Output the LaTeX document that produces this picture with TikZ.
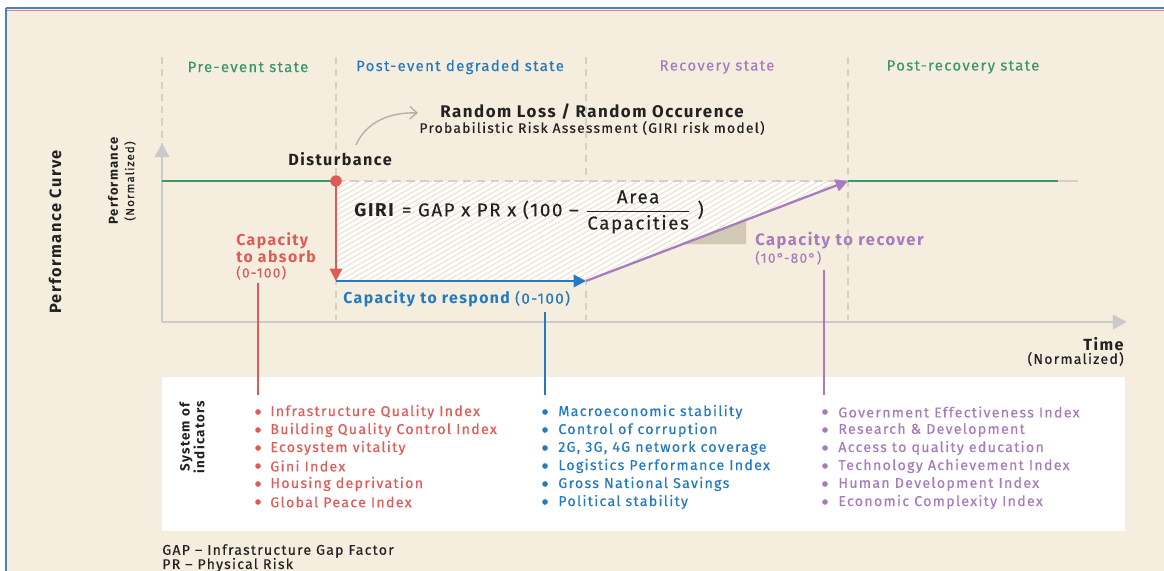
\documentclass[tikz,border=0pt]{standalone}
\usepackage{fontspec}
\setmainfont{Fira Sans}[LetterSpace=9,FakeBold=0.3,BoldFeatures={FakeBold=0}]
\usetikzlibrary{arrows.meta}
\definecolor{bgbeige}{RGB}{245,237,221}
\definecolor{absred}{RGB}{222,92,88}
\definecolor{respblue}{RGB}{36,122,192}
\definecolor{recpurple}{RGB}{166,124,190}
\definecolor{stategreen}{RGB}{58,150,110}
\definecolor{axisgray}{RGB}{202,202,202}
\definecolor{dividergray}{RGB}{214,208,196}
\definecolor{hatchbeige}{RGB}{236,229,214}
\definecolor{slopegray}{RGB}{210,201,180}
\definecolor{inkblack}{RGB}{34,34,34}
\definecolor{frameblue}{RGB}{70,130,200}

\begin{document}
\begin{tikzpicture}[x=0.02cm,y=-0.02cm,
  heading/.style={font=\fontsize{8.5}{10}\selectfont},
  boldlabel/.style={font=\fontsize{9.2}{10}\selectfont\bfseries,text=inkblack},
  caplabel/.style={font=\fontsize{9}{8.6}\selectfont\bfseries,align=left,inner sep=0pt},
  indicator/.style={font=\fontsize{8.1}{9}\selectfont,anchor=west,inner sep=0pt},
  bulletdot/.style={circle,inner sep=0pt,minimum size=3.2pt},
  divider/.style={dividergray,line width=0.6pt,dash pattern=on 4pt off 3pt},
  axisline/.style={axisgray,line width=1.6pt,-{Triangle[length=8pt,width=8pt]}},
  linkline/.style={line width=0.6pt},
  curvelink/.style={line width=1.4pt,-{Triangle[length=7pt,width=7pt]}}]
\useasboundingbox (0,0) rectangle (1164,571);

% frame and background
\fill[white] (0,0) rectangle (1164,571);
\fill[bgbeige] (7,9) rectangle (1164,571);
\draw[absred!80,line width=0.8pt] (7,10.5) -- (1164,10.5);
\draw[frameblue,line width=0.8pt] (6,8) -- (1164,8);
\draw[frameblue,line width=0.9pt] (6,8) -- (6,571);

% states
\foreach \x in {162,336,586,848}
  \draw[divider] (\x,57) -- (\x,320);
\node[heading,text=stategreen] (preevent) at (248,67) {Pre-event state};
\node[heading,text=respblue] (postevent) at (460,67) {Post-event degraded state};
\node[heading,text=recpurple] (recovery) at (717,67) {Recovery state};
\node[heading,text=stategreen] (postrecovery) at (963,67) {Post-recovery state};

% loss area
\coordinate (start) at (162,181);
\coordinate (dist) at (336,181);
\coordinate (bottom) at (336,281);
\coordinate (turn) at (586,281);
\coordinate (full) at (848,181);
\coordinate (end) at (1058,181);
\coordinate (fade) at (1078,181);
\begin{scope}
  \clip (dist) -- (full) -- (turn) -- (bottom) -- cycle;
  \fill[white] (336,181) rectangle (848,281);
  \foreach \k in {0,...,85}
    \draw[hatchbeige,line width=0.7pt] (150+\k*9,281) -- ++(200,-115);
\end{scope}
\draw[dividergray,line width=0.8pt,dash pattern=on 5pt off 3pt] (dist) -- (full);
\fill[slopegray] (683,244) -- (746,244) -- (746,220) -- cycle;

% axes
\draw[axisline] (162,322) -- (162,143);
\draw[axisline] (162,322) -- (1127,322);
\node[font=\fontsize{9.3}{12}\selectfont\bfseries,rotate=90,text=inkblack] (perfcurve) at (55,232) {Performance Curve};
\node[font=\fontsize{7.4}{9}\selectfont\bfseries,rotate=90,text=inkblack] (perfaxis) at (113,181) {Performance};
\node[font=\fontsize{6.6}{8}\selectfont,rotate=90,text=inkblack] (perfnorm) at (130,181) {(Normalized)};
\node[font=\fontsize{9.2}{10}\selectfont\bfseries,anchor=east,text=inkblack,inner sep=0pt] (timeaxis) at (1124,344) {Time};
\node[font=\fontsize{8}{9}\selectfont,anchor=east,text=inkblack,inner sep=0pt] (timenorm) at (1124,359) {(Normalized)};

% performance curve
\draw[stategreen,line width=1.3pt] (start) -- (dist);
\draw[absred,line width=1.3pt,-{Triangle[length=7pt,width=7pt]}] (dist) -- (bottom);
\draw[respblue,line width=1.3pt,-{Triangle[length=7pt,width=7pt]}] (bottom) -- (turn);
\draw[recpurple,line width=1.3pt,-{Triangle[length=7pt,width=7pt]}] (turn) -- (full);
\draw[stategreen,line width=1.3pt] (full) -- (end);
\draw[dividergray,line width=1.3pt] (end) -- (fade);
\node[circle,fill=absred,inner sep=0pt,minimum size=6.5pt] (distdot) at (dist) {};

% labels
\node[boldlabel] (disturb) at (340,159) {Disturbance};
\node[font=\fontsize{9.6}{11}\selectfont\bfseries,text=inkblack] (riskhead) at (592,112) {Random Loss / Random Occurence};
\node[font=\fontsize{7.9}{9}\selectfont,text=inkblack] (risksub) at (592,128) {Probabilistic Risk Assessment (GIRI risk model)};
\coordinate (curvestart) at (356,145);
\coordinate (curveend) at (418,113);
\draw[dividergray!85!black,line width=0.8pt,-{Straight Barb[length=4pt,width=7pt]}] (curvestart) .. controls (366,122) and (390,112) .. (curveend);
\node[font=\fontsize{10.6}{11}\selectfont,anchor=west,text=inkblack,inner sep=0pt] (giri) at (354,212)
  {\textbf{GIRI} = GAP x PR x (100 -- $\displaystyle\frac{\mbox{Area}}{\mbox{Capacities}}$ )};
\node[caplabel,text=absred,anchor=north west] (absorb) at (236,232)
  {Capacity\\to absorb\\{\fontsize{7.8}{8}\selectfont\mdseries (0-100)}};
\node[caplabel,text=respblue,anchor=west] (respond) at (343,299)
  {Capacity to respond {\fontsize{8.6}{8}\selectfont\mdseries (0-100)}};
\node[caplabel,text=recpurple,anchor=north west] (recover) at (755,232)
  {\fontsize{9.4}{8.6}\selectfont Capacity to recover\\{\fontsize{7.8}{8}\selectfont\mdseries (10°-80°)}};

% indicators
\fill[white] (162,377) rectangle (1125,531);
\coordinate (absorbtop) at (258,283);
\coordinate (absorbfoot) at (258,395);
\coordinate (respondtop) at (545,312);
\coordinate (respondfoot) at (545,395);
\coordinate (recovertop) at (824,270);
\coordinate (recoverfoot) at (824,395);
\draw[linkline,absred] (absorbtop) -- (absorbfoot);
\draw[linkline,respblue] (respondtop) -- (respondfoot);
\draw[linkline,recpurple] (recovertop) -- (recoverfoot);
\node[font=\fontsize{7.6}{8.4}\selectfont\bfseries,rotate=90,align=center,text=inkblack] (system) at (192,437) {System of\\indicators};
\foreach \i/\txt in {0/Infrastructure Quality Index,1/Building Quality Control Index,2/Ecosystem vitality,3/Gini Index,4/Housing deprivation,5/Global Peace Index}{
  \node[bulletdot,fill=absred] (absorbdot\i) at (258,412+18*\i) {};
  \node[indicator,text=absred] (absorbind\i) at (270,412+18*\i) {\txt};
}
\foreach \i/\txt in {0/Macroeconomic stability,1/Control of corruption,2/{2G, 3G, 4G network coverage},3/Logistics Performance Index,4/Gross National Savings,5/Political stability}{
  \node[bulletdot,fill=respblue] (responddot\i) at (545,412+18*\i) {};
  \node[indicator,text=respblue] (respondind\i) at (558,412+18*\i) {\txt};
}
\foreach \i/\txt in {0/Government Effectiveness Index,1/Research \& Development,2/Access to quality education,3/Technology Achievement Index,4/Human Development Index,5/Economic Complexity Index}{
  \node[bulletdot,fill=recpurple] (recoverdot\i) at (825,412+18*\i) {};
  \node[indicator,text=recpurple] (recoverind\i) at (838,412+18*\i) {\txt};
}

% notes
\node[font=\fontsize{8}{9}\selectfont,anchor=west,text=inkblack,inner sep=0pt] (gapnote) at (162,551) {GAP -- Infrastructure Gap Factor};
\node[font=\fontsize{8}{9}\selectfont,anchor=west,text=inkblack,inner sep=0pt] (prnote) at (162,565) {PR -- Physical Risk};
\end{tikzpicture}
\end{document}
